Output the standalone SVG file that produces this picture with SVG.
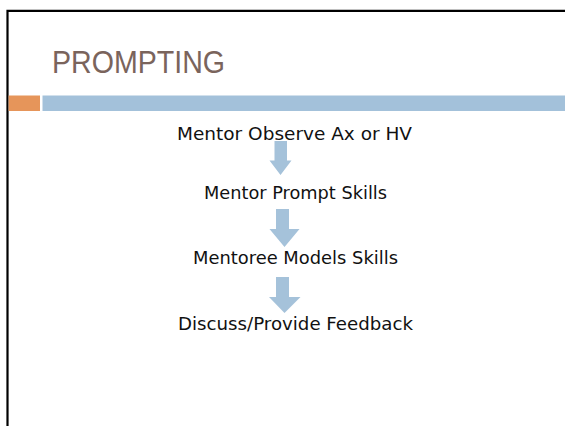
<svg xmlns="http://www.w3.org/2000/svg" width="565" height="426" viewBox="0 0 565 426">
<style>
.t{font-family:"DejaVu Sans","Liberation Sans",sans-serif;font-size:18px;fill:#111;text-anchor:middle}
.arr{fill:#a5c2da}
</style>
<rect width="565" height="426" fill="#fff"/>
<path d="M7.5 426 V10.8 H565" fill="none" stroke="#000" stroke-width="2.2"/>
<text x="52" y="73" font-family="'Liberation Sans',Arial,sans-serif" font-size="30.5" fill="#7a645c" textLength="173" lengthAdjust="spacingAndGlyphs">PROMPTING</text>
<rect x="8.6" y="95.5" width="31.4" height="15.5" fill="#e6955a"/>
<rect x="42.5" y="95.5" width="522.5" height="15.5" fill="#a3c1da"/>
<g id="connectors">
<path class="arr" d="M274.5 141 H287 V160.5 H291.5 L280.5 175 L269.5 160.5 H274.5 Z"/>
<path class="arr" d="M276 209 H289 V229 H299.5 L284.5 247 L269.5 229 H276 Z"/>
<path class="arr" d="M276 277 H289 V297 H300.5 L284.5 313 L269 297 H276 Z"/>
</g>
<g id="n1"><text class="t" x="294.5" y="140" textLength="235" lengthAdjust="spacingAndGlyphs">Mentor Observe Ax or HV</text></g>
<g id="n2"><text class="t" x="295.5" y="199" textLength="183" lengthAdjust="spacingAndGlyphs">Mentor Prompt Skills</text></g>
<g id="n3"><text class="t" x="295.5" y="263.5" textLength="205" lengthAdjust="spacingAndGlyphs">Mentoree Models Skills</text></g>
<g id="n4"><text class="t" x="295.5" y="329.5" textLength="235" lengthAdjust="spacingAndGlyphs">Discuss/Provide Feedback</text></g>
</svg>
